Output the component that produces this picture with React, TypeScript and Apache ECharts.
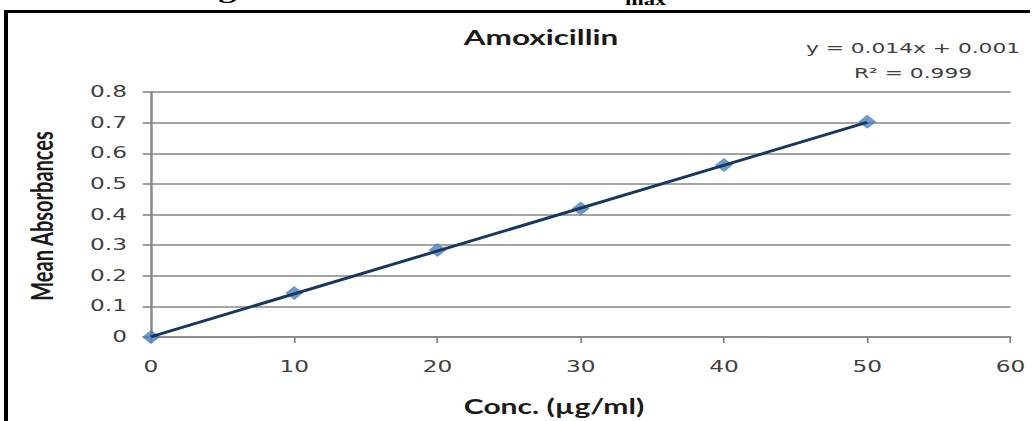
import { useEffect, useRef } from "react";
import * as echarts from "echarts";

// Calibration data: concentration (µg/ml) vs. mean absorbance
const concentrations = [0, 10, 20, 30, 40, 50];
const meanAbsorbances = [0, 0.144, 0.284, 0.42, 0.562, 0.703];

// Linear fit shown on the chart
const trendSlope = 0.014;
const trendIntercept = 0.001;
const rSquared = 0.999;

// Axis ranges and tick steps
const xRange = [0, 60];
const xStep = 10;
const yRange = [0, 0.8];
const yStep = 0.1;

// Texts
const chartTitle = "Amoxicillin";
const xTitle = "Conc. (µg/ml)";
const yTitle = "Mean Absorbances";
const captionMain = "Figure 2: Determination of λ";
const captionSub = "max";

// The figure is drawn narrow and widened horizontally
const STRETCH = 1.5;
const PAGE_W = 1033;
const PAGE_H = 421;
const INNER_W = PAGE_W / STRETCH;

const sx = (px: number) => px / STRETCH;

export default function App() {
  const ref = useRef<HTMLDivElement>(null);

  useEffect(() => {
    document.body.style.margin = "0";
    document.body.style.overflow = "hidden";
    const chart = echarts.init(ref.current!, undefined, { renderer: "svg" });

    const points = concentrations.map((c, i) => [c, meanAbsorbances[i]]);
    const xFirst = concentrations[0];
    const xLast = concentrations[concentrations.length - 1];
    const trend = [
      [xFirst, trendSlope * xFirst + trendIntercept],
      [xLast, trendSlope * xLast + trendIntercept],
    ];

    const axisGray = "#868686";
    const labelColor = "#404040";
    const tickFont = "DejaVu Sans";

    const plotLeft = sx(151);
    const plotRight = sx(1010);

    chart.setOption({
      animation: false,
      backgroundColor: "#ffffff",
      grid: {
        left: plotLeft,
        right: INNER_W - plotRight,
        top: 92,
        bottom: PAGE_H - 337,
        containLabel: false,
      },
      xAxis: {
        type: "value",
        min: xRange[0],
        max: xRange[1],
        interval: xStep,
        axisLine: { show: true, lineStyle: { color: axisGray, width: 1.6 } },
        axisTick: { show: true, length: 6, lineStyle: { color: axisGray, width: 1.2 } },
        splitLine: { show: false },
        axisLabel: { margin: 22, color: labelColor, fontFamily: tickFont, fontSize: 15.5 },
      },
      yAxis: {
        type: "value",
        min: yRange[0],
        max: yRange[1],
        interval: yStep,
        axisLine: { show: true, lineStyle: { color: axisGray, width: 1.6 } },
        axisTick: { show: true, length: 5.5, lineStyle: { color: axisGray, width: 1.6 } },
        splitLine: { show: true, lineStyle: { color: axisGray, width: 1.6 } },
        axisLabel: {
          margin: 16,
          color: labelColor,
          fontFamily: tickFont,
          fontSize: 15.5,
          formatter: (v: number) => String(Number(v.toFixed(1))),
        },
      },
      series: [
        {
          type: "scatter",
          data: points,
          symbol: "diamond",
          symbolSize: [12, 14],
          itemStyle: { color: "#4A7EBB" },
          z: 2,
        },
        {
          type: "line",
          data: trend,
          symbol: "none",
          lineStyle: { color: "#17375E", width: 2.8 },
          z: 3,
        },
      ],
      graphic: [
        // frame
        {
          type: "rect",
          shape: { x: sx(4), y: 10, width: sx(1030) - sx(4), height: 3 },
          style: { fill: "#000000" },
        },
        {
          type: "rect",
          shape: { x: sx(4), y: 10, width: sx(4), height: PAGE_H - 10 },
          style: { fill: "#000000" },
        },
        // caption above the frame (mostly outside the page)
        {
          type: "text",
          x: sx(625),
          y: -10,
          style: {
            text: captionMain,
            font: 'bold 24px "Liberation Serif"',
            fill: "#000000",
            textAlign: "right",
            align: "right",
            textVerticalAlign: "middle",
            verticalAlign: "middle",
          },
        },
        {
          type: "text",
          x: sx(625),
          y: 0,
          style: {
            text: captionSub,
            font: 'bold 15px "Liberation Serif"',
            fill: "#000000",
            textAlign: "left",
            align: "left",
            textVerticalAlign: "middle",
            verticalAlign: "middle",
          },
        },
        // chart title
        {
          type: "text",
          x: sx(541),
          y: 37,
          style: {
            text: chartTitle,
            font: "bold 21px Lato",
            fill: "#1a1a1a",
            textAlign: "center",
            align: "center",
            textVerticalAlign: "middle",
            verticalAlign: "middle",
          },
        },
        // fit equation
        {
          type: "text",
          x: sx(913),
          y: 48,
          style: {
            text: `y = ${trendSlope}x + ${trendIntercept}`,
            font: '14.5px "DejaVu Sans"',
            fill: "#404040",
            textAlign: "center",
            align: "center",
            textVerticalAlign: "middle",
            verticalAlign: "middle",
          },
        },
        {
          type: "text",
          x: sx(913),
          y: 73,
          style: {
            text: `R² = ${rSquared}`,
            font: '14.5px "DejaVu Sans"',
            fill: "#404040",
            textAlign: "center",
            align: "center",
            textVerticalAlign: "middle",
            verticalAlign: "middle",
          },
        },
        // axis titles
        {
          type: "text",
          x: sx(41),
          y: 216,
          rotation: Math.PI / 2,
          style: {
            text: yTitle,
            font: "bold 20px Lato",
            fill: "#1a1a1a",
            textAlign: "center",
            align: "center",
            textVerticalAlign: "middle",
            verticalAlign: "middle",
          },
        },
        {
          type: "text",
          x: sx(554),
          y: 406,
          style: {
            text: xTitle,
            font: "bold 20px Lato",
            fill: "#1a1a1a",
            textAlign: "center",
            align: "center",
            textVerticalAlign: "middle",
            verticalAlign: "middle",
          },
        },
      ],
    });

    return () => chart.dispose();
  }, []);

  return (
    <div
      style={{
        position: "absolute",
        left: 0,
        top: 0,
        width: PAGE_W,
        height: PAGE_H,
        overflow: "hidden",
        background: "#ffffff",
      }}
    >
      <div
        ref={ref}
        style={{
          width: INNER_W,
          height: PAGE_H,
          transform: `scaleX(${STRETCH})`,
          transformOrigin: "0 0",
        }}
      />
    </div>
  );
}
